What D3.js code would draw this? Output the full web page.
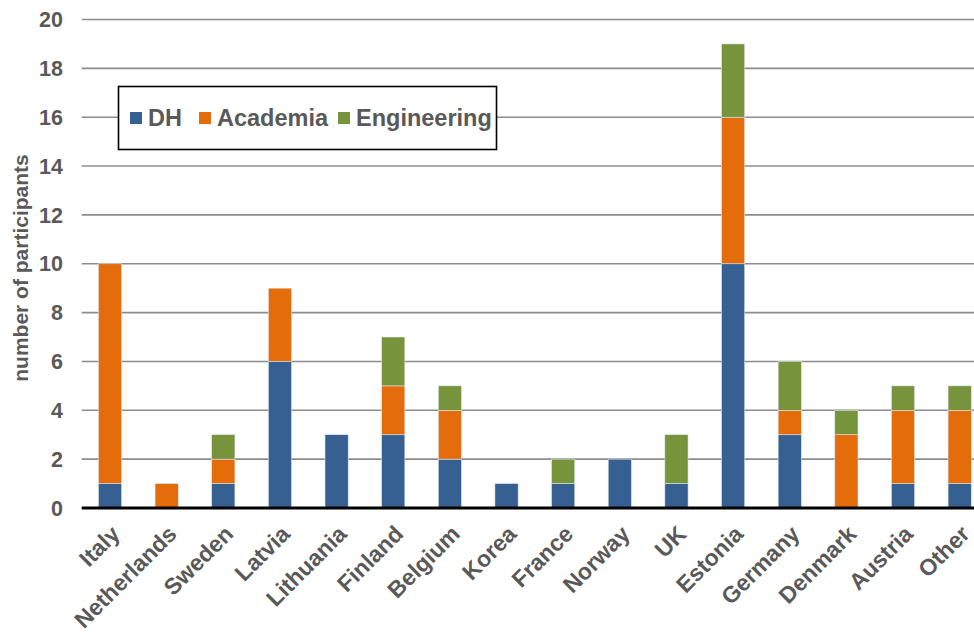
<!DOCTYPE html>
<html><head><meta charset="utf-8">
<script src="https://cdn.jsdelivr.net/npm/d3@7/dist/d3.min.js"></script>
<style>
body{margin:0;background:#fff;}
svg{display:block;font-family:"Liberation Sans",Arial,sans-serif;}
</style></head>
<body><svg id="c" width="974" height="635"></svg>
<script>
const categories = ["Italy","Netherlands","Sweden","Latvia","Lithuania","Finland","Belgium","Korea","France","Norway","UK","Estonia","Germany","Denmark","Austria","Other"];
const seriesNames = ["DH","Academia","Engineering"];
const dh          = [1,0,1,6,3,3,2,1,1,2,1,10,3,0,1,1];
const academia    = [9,1,1,3,0,2,2,0,0,0,0,6,1,3,3,3];
const engineering = [0,0,1,0,0,2,1,0,1,0,2,3,2,1,1,1];
const yTicks = [0,2,4,6,8,10,12,14,16,18,20];
const colors = ["#366092","#e46c0a","#77933c"];

const svg = d3.select("#c");
const x0 = 81.7, x1 = 988, yTop = 19.5, yBot = 508;
const x = d3.scaleBand().domain(categories).range([x0,x1]).paddingInner(0.59).paddingOuter(0.295);
const y = d3.scaleLinear().domain([0,20]).range([yBot,yTop]);

const rows = categories.map((c,i)=>({cat:c, DH:dh[i], Academia:academia[i], Engineering:engineering[i]}));
const stack = d3.stack().keys(seriesNames)(rows);

// gridlines
svg.append("g").selectAll("line").data(yTicks.filter(d=>d>0)).join("line")
  .attr("x1",x0).attr("x2",974).attr("y1",d=>y(d)).attr("y2",d=>y(d))
  .attr("stroke","#8c8c8c").attr("stroke-width",1.6);

// y tick labels
svg.append("g").selectAll("text").data(yTicks).join("text")
  .attr("x",63).attr("y",d=>y(d)).attr("dy","0.36em").attr("text-anchor","end")
  .attr("font-size",21.5).attr("font-weight","bold").attr("fill","#595959").text(d=>d);

// bars
svg.append("g").selectAll("g").data(stack).join("g").attr("fill",(d,i)=>colors[i])
  .selectAll("rect").data(d=>d.filter(s=>s[1]-s[0]>0)).join("rect")
  .attr("x",d=>x(d.data.cat)).attr("width",x.bandwidth())
  .attr("y",d=>y(d[1])).attr("height",d=>y(d[0])-y(d[1]))
  .attr("stroke","#dfe6ee").attr("stroke-width",0.6);

// axis line
svg.append("line").attr("x1",x0).attr("x2",974).attr("y1",yBot).attr("y2",yBot)
  .attr("stroke","#000").attr("stroke-width",3);

// x labels
svg.append("g").selectAll("text").data(categories).join("text")
  .attr("transform",d=>`translate(${x(d)+x.bandwidth()/2},${yBot+16}) rotate(-45)`)
  .attr("text-anchor","end").attr("dy","0.7em")
  .attr("font-size",23).attr("font-weight","bold").attr("fill","#595959").text(d=>d);

// y title
svg.append("text").attr("transform","translate(28,268) rotate(-90)")
  .attr("text-anchor","middle").attr("font-size",21).attr("font-weight","bold")
  .attr("fill","#595959").text("number of participants");

// legend
const lg = svg.append("g");
lg.append("rect").attr("x",118.5).attr("y",86.5).attr("width",378).attr("height",63)
  .attr("fill","#fff").attr("stroke","#000").attr("stroke-width",1.6);
const lx = [130,199,338];
seriesNames.forEach((s,i)=>{
  lg.append("rect").attr("x",lx[i]).attr("y",112).attr("width",12).attr("height",12).attr("fill",colors[i]);
  lg.append("text").attr("x",lx[i]+18).attr("y",118).attr("dy","0.36em")
    .attr("font-size",23.5).attr("font-weight","bold").attr("fill","#595959").text(s);
});
</script></body></html>
